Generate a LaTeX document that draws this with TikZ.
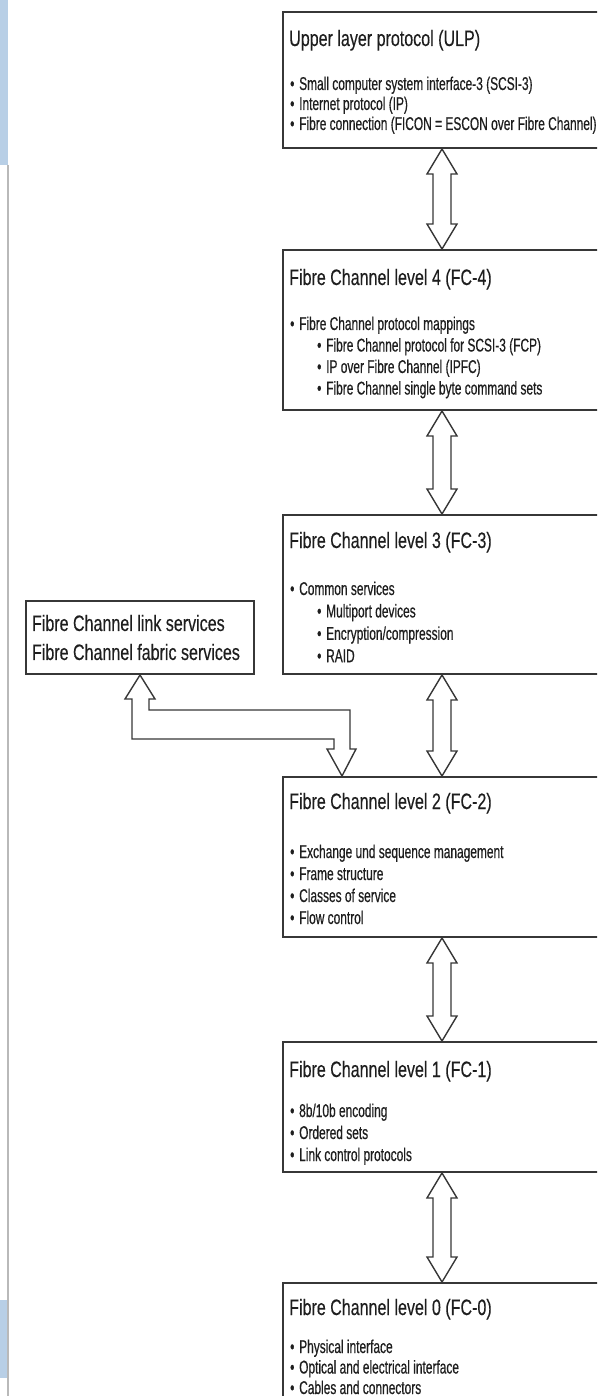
\documentclass[tikz,border=0pt]{standalone}
\usepackage{fontspec}
\setmainfont[FakeStretch=0.72, FakeBold=0.3]{Liberation Sans}
\newfontfamily\itemfont[FakeStretch=0.645, FakeBold=0.5]{Liberation Sans}
\usetikzlibrary{positioning,calc}
\definecolor{boxline}{RGB}{55,55,55}
\definecolor{inktext}{RGB}{30,30,30}
\definecolor{sidebar}{RGB}{184,207,230}
\definecolor{edgegray}{RGB}{185,185,185}

\newcommand{\itm}{\makebox[9pt][l]{\textbullet}}
\newcommand{\subitm}{\hspace*{27pt}\makebox[9pt][l]{\textbullet}}

\begin{document}
\begin{tikzpicture}[x=1pt, y=-1pt,
        layer/.style={rectangle, draw=boxline, line width=2pt,
                      minimum width=318pt, inner sep=0pt},
        ttl/.style={anchor=base west, inner sep=0pt, text=inktext,
                    font=\fontsize{22.3}{29}\selectfont},
        items/.style={anchor=base west, inner sep=0pt, text=inktext,
                      text width=320pt, align=left,
                      execute at begin node={\spaceskip=0pt\xspaceskip=0pt},
                      font=\itemfont\fontsize{18.5}{22}\selectfont},
        svcbox/.style={rectangle, draw=boxline, line width=2pt,
                       minimum width=228pt, minimum height=73pt,
                       inner xsep=6pt, text width=216pt, align=left,
                       execute at begin node={\spaceskip=0pt\xspaceskip=0pt},
                       text=inktext, font=\fontsize{22.3}{29}\selectfont},
        dblarrow/.style={draw=boxline, line width=1.4pt, fill=white}
    ]
        \useasboundingbox (0,0) rectangle (597,1396);
        \clip (0,0) rectangle (597,1396);

        % left edge of the page
        \fill[sidebar] (0,0) rectangle (8,165);
        \fill[sidebar] (0,1300) rectangle (8,1378);
        \draw[edgegray, line width=1.5pt] (8,165) -- (8,1396);

        \node[layer, anchor=north west, minimum height=136pt] (ulp) at (282,11) {};
        \node[layer, below=100pt of ulp, minimum height=160pt] (fcfour)  {};
        \node[layer, below=103pt of fcfour, minimum height=159pt] (fcthree) {};
        \node[layer, below=101pt of fcthree, minimum height=160pt] (fctwo) {};
        \node[layer, below=103pt of fctwo, minimum height=130pt] (fcone) {};
        \node[layer, below=109pt of fcone, minimum height=200pt] (fczero) {};

        \node[ttl] (ulpt) at ([xshift=7pt, yshift=-35pt]ulp.north west) {Upper layer protocol (ULP)};
        \node[items, font=\itemfont\fontsize{18.5}{20}\selectfont] (ulpi) at ([xshift=1pt, yshift=-44pt]ulpt.base west)
            {\itm Small computer system interface-3 (SCSI-3)\\
             \itm Internet protocol (IP)\\
             \itm Fibre connection (FICON = ESCON over Fibre Channel)};

        \node[ttl] (fcfourt) at ([xshift=7pt, yshift=-36pt]fcfour.north west) {Fibre Channel level 4 (FC-4)};
        \node[items, font=\itemfont\fontsize{18.5}{21.5}\selectfont] (fcfouri) at ([xshift=1pt, yshift=-45pt]fcfourt.base west)
            {\itm Fibre Channel protocol mappings\\
             \subitm Fibre Channel protocol for SCSI-3 (FCP)\\
             \subitm IP over Fibre Channel (IPFC)\\
             \subitm Fibre Channel single byte command sets};

        \node[ttl] (fcthreet) at ([xshift=7pt, yshift=-34pt]fcthree.north west) {Fibre Channel level 3 (FC-3)};
        \node[items, font=\itemfont\fontsize{18.5}{22.4}\selectfont] (fcthreei) at ([xshift=1pt, yshift=-47pt]fcthreet.base west)
            {\itm Common services\\
             \subitm Multiport devices\\
             \subitm Encryption/compression\\
             \subitm RAID};

        \node[ttl] (fctwot) at ([xshift=7pt, yshift=-33pt]fctwo.north west) {Fibre Channel level 2 (FC-2)};
        \node[items] (fctwoi) at ([xshift=1pt, yshift=-49pt]fctwot.base west)
            {\itm Exchange und sequence management\\
             \itm Frame structure\\
             \itm Classes of service\\
             \itm Flow control};

        \node[ttl] (fconet) at ([xshift=7pt, yshift=-36pt]fcone.north west) {Fibre Channel level 1 (FC-1)};
        \node[items] (fconei) at ([xshift=1pt, yshift=-40pt]fconet.base west)
            {\itm 8b/10b encoding\\
             \itm Ordered sets\\
             \itm Link control protocols};

        \node[ttl] (fczerot) at ([xshift=7pt, yshift=-33pt]fczero.north west) {Fibre Channel level 0 (FC-0)};
        \node[items, font=\itemfont\fontsize{18.5}{20.5}\selectfont] (fczeroi) at ([xshift=1pt, yshift=-38pt]fczerot.base west)
            {\itm Physical interface\\
             \itm Optical and electrical interface\\
             \itm Cables and connectors};

        \node[svcbox, anchor=south east] (svc) at ([xshift=-27pt]fcthree.south west)
            {Fibre Channel link services\\Fibre Channel fabric services};
        \coordinate (svcin) at ([xshift=60pt]fctwo.north west);

        \foreach \a/\b in {ulp/fcfour, fcfour/fcthree, fcthree/fctwo, fctwo/fcone, fcone/fczero}
            \draw[dblarrow] (\a.south) -- ++(15,25) -- ++(-6,0) -- ($(\b.north)+(9,-25)$)
                -- ++(6,0) -- (\b.north) -- ++(-15,-25) -- ++(6,0)
                -- ($(\a.south)+(-9,25)$) -- ++(-6,0) -- cycle;

        \draw[dblarrow] (svc.south) -- ++(15,24) -- ++(-6,0) -- ++(0,11)
            -- ($(svcin)+(8,-66)$) -- ++(0,39) -- ++(6,0) -- (svcin)
            -- ++(-15,-27) -- ++(7,0) -- ++(0,-10)
            -- ($(svc.south)+(-8,64)$) -- ++(0,-40) -- ++(-7,0) -- cycle;
    \end{tikzpicture}
\end{document}
